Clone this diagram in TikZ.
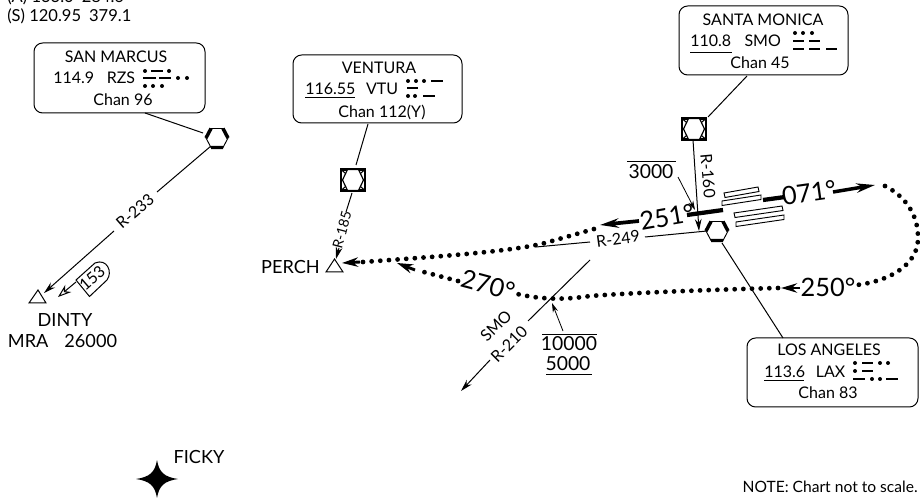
\documentclass[tikz,border=0pt]{standalone}
\usepackage{fontspec}
\setmainfont{Lato}
\usetikzlibrary{arrows.meta,calc}
\tikzset{
  lbl/.style={inner sep=0pt,font=\fontsize{12pt}{14pt}\selectfont},
  lbn/.style={inner sep=0pt,font=\fontsize{13.6pt}{15pt}\selectfont},
  lbs/.style={inner sep=0pt,font=\fontsize{12pt}{14pt}\selectfont},
  alt/.style={inner sep=0pt,font=\fontsize{14.5pt}{16pt}\selectfont},
  big/.style={inner sep=0pt,font=\fontsize{19pt}{21pt}\selectfont},
  navbox/.style={draw,rounded corners=6.5pt,line width=.75pt,inner sep=0pt,fill=white},
  icon/.style={inner sep=0pt,minimum size=16pt,circle},
  conn/.style={line width=.75pt},
  dots/.style={line width=3.6pt,line cap=round,dash pattern=on 0pt off 6.5pt},
  fah/.style={-{Stealth[length=9pt,width=5pt]}},
  lah/.style={line width=.6pt,-{Stealth[length=7pt,width=4pt]}},
  morse/.style={line width=2.2pt},
  mdot/.style={circle,fill,inner sep=0pt,minimum size=3pt},
  fix/.style={draw,line width=.75pt,fill=white},
  rwy/.style={draw,line width=.7pt,fill=white},
}
\newcommand{\hexpath}[1]{%
  \begin{scope}[shift={(#1)}]
    \draw[line width=.7pt,fill=white] (-11,0)--(-6,-9.5)--(6,-9.5)--(11,0)--(6,9.5)--(-6,9.5)--cycle;
    \draw[line width=2.6pt] (-11,0)--(-6,-9.5) (6,-9.5)--(11,0) (-6,9.5)--(6,9.5);
  \end{scope}}
\newcommand{\vortac}[1]{%
  \begin{scope}[shift={(#1)}]
    \draw[line width=2.2pt,fill=white] (-12,-10.5) rectangle (12,10.5);
    \draw[line width=.8pt] (-12,-10.5)--(12,10.5) (-12,10.5)--(12,-10.5);
    \draw[line width=.9pt,fill=white] (-10.5,0)--(-5.5,-10.5)--(5.5,-10.5)--(10.5,0)--(5.5,10.5)--(-5.5,10.5)--cycle;
  \end{scope}}
\newcommand{\mdash}[3]{\draw[morse] (#1,#3)--(#2,#3);}
\newcommand{\mpt}[2]{\node[mdot] at (#1,#2) {};}
\begin{document}
\begin{tikzpicture}[x=.75pt,y=-.75pt]
\useasboundingbox (0,0) rectangle (920,498);

% header
\node[lbl,anchor=west,font=\fontsize{12.4pt}{14pt}\selectfont] (hdra) at (7,-3) {(A) 133.0\hspace{6pt}284.6};
\node[lbl,anchor=west,font=\fontsize{12.4pt}{14pt}\selectfont] (hdrs) at (7,16) {(S) 120.95\hspace{6pt}379.1};

% boxes
\node[navbox,minimum width=128.25pt,minimum height=52.5pt] (bsm) at (119.5,78) {};
\node[navbox,minimum width=126.75pt,minimum height=51pt] (bvt) at (377.5,89) {};
\node[navbox,minimum width=126.75pt,minimum height=51.75pt] (bsa) at (763.5,40.5) {};
\node[navbox,minimum width=128.25pt,minimum height=51.75pt] (bla) at (832.5,372.5) {};

% San Marcus text
\node[lbl] (t1) at (116,57) {SAN MARCUS};
\node[lbl,anchor=west] (t2) at (53,78) {114.9\hspace{9.5pt}RZS};
\node[lbl] (t3) at (123,100) {Chan 96};
\mpt{145}{71}\mdash{151}{163}{71}\mpt{169}{71}
\mdash{143}{156}{78}\mdash{159}{171}{78}\mpt{178}{78}\mpt{187}{78}
\mpt{145}{86}\mpt{153}{86}\mpt{162}{86}

% Ventura text
\node[lbl] (t4) at (379,68) {VENTURA};
\node[lbl,anchor=west] (t5) at (305,89) {116.55\hspace{8pt}VTU};
\draw[line width=.6pt] (305,97)--(355,97);
\node[lbl] (t6) at (382,112) {Chan 112(Y)};
\mpt{408}{81}\mpt{416}{81}\mpt{424}{81}\mdash{431}{443}{81}
\mdash{407}{418}{88}
\mpt{408}{96}\mpt{415}{96}\mdash{423}{435}{96}

% Santa Monica text
\node[lbl] (t7) at (763,20) {SANTA MONICA};
\node[lbl,anchor=west] (t8) at (690,41) {110.8\hspace{10pt}SMO};
\draw[line width=.6pt] (690,52)--(732,52);
\node[lbl] (t9) at (760,63) {Chan 45};
\mpt{795}{33}\mpt{803}{33}\mpt{812}{33}
\mdash{793}{804}{41}\mdash{809}{820}{41}
\mdash{793}{804}{49}\mdash{809}{820}{49}\mdash{826}{837}{49}

% Los Angeles text
\node[lbl] (t10) at (829,350) {LOS ANGELES};
\node[lbl,anchor=west] (t11) at (764,372) {113.6\hspace{8pt}LAX};
\draw[line width=.6pt] (764,380)--(804,380);
\node[lbl] (t12) at (828,393) {Chan 83};
\mpt{855}{363}\mdash{862}{873}{363}\mpt{880}{363}\mpt{888}{363}
\mpt{855}{371}\mdash{862}{873}{371}
\mdash{853}{865}{379}\mpt{872}{379}\mpt{880}{379}\mdash{886}{898}{379}

% navaid nodes
\node[icon] (vsm) at (217,138) {};
\node[icon] (vvt) at (353,180) {};
\node[icon] (vsa) at (694,129) {};
\node[icon] (vla) at (717,231) {};

% fixes
\coordinate (dinty) at (38,298);
\coordinate (perch) at (334,267);
\draw[fix] (29,303)--(46,303)--(38,290)--cycle;
\draw[fix] (326,272)--(343,272)--(334.5,259)--cycle;
\node[lbn] (n1) at (65,320) {DINTY};
\node[lbn] (n2) at (62.5,341) {MRA\hspace{12pt}26000};
\node[lbn,anchor=east] (n3) at (320,267) {PERCH};

% connectors to boxes
\coordinate (c1a) at (145,113);\coordinate (c1b) at (203,133);
\draw[conn] (c1a)--(c1b);
\coordinate (c2a) at (368,124);\coordinate (c2b) at (356,165);
\draw[conn] (c2a)--(c2b);
\coordinate (c3a) at (747,76);\coordinate (c3b) at (708,117);
\draw[conn] (c3a)--(c3b);
\coordinate (c4a) at (722,243);\coordinate (c4b) at (783,338);
\draw[conn] (c4a)--(c4b);

% radials
\coordinate (a1) at (211,146);\coordinate (a2) at (157,192);\coordinate (a3) at (114,231);\coordinate (a4) at (44,293);
\draw[conn] (a1)--(a2);
\draw[conn,fah] (a3)--(a4);
\node[lbs,rotate=41] (r233) at (135,211) {R-233};

\coordinate (b1) at (352,193);\coordinate (b2) at (346,212);\coordinate (b3) at (339,248);\coordinate (b4) at (336,259);
\draw[conn] (b1)--(b2);
\draw[conn,fah] (b3)--(b4);
\node[lbs,rotate=75,font=\fontsize{10.5pt}{12pt}\selectfont] (r185) at (342,230) {R-185};

\coordinate (d1) at (693,140);\coordinate (d2) at (699,231);
\draw[conn,fah] (d1)--(d2);
\node[lbs,rotate=-85] (r160) at (708,176) {R-160};

\coordinate (e1) at (707,231);\coordinate (e2) at (645,237);\coordinate (e3) at (590,242);\coordinate (e4) at (536,247);
\draw[conn] (e1)--(e2) (e3)--(e4);
\node[lbs,rotate=8] (r249) at (618,239) {R-249};

\coordinate (f1) at (590,260);\coordinate (f2) at (528,321);\coordinate (f3) at (490,360);\coordinate (f4) at (461,391);
\draw[conn] (f1)--(f2);
\draw[conn,fah] (f3)--(f4);
\node[lbs,rotate=45] (smo) at (496,326) {SMO};
\node[lbs,rotate=45] (r210) at (509,344) {R-210};

% icons
\hexpath{217,138}
\vortac{353,180}
\vortac{694,129}
\hexpath{717,231}

% 153 tag
\coordinate (g1) at (76,282);\coordinate (g2) at (58,297);
\draw[line width=.75pt,-{Stealth[open,length=10pt,width=7pt,fill=white]}] (g1)--(g2);
\draw[line width=.75pt] (76,280)--(89.5,296.5)--(107,280) .. controls (113,272) and (107,258) .. (95,263)--cycle;
\node[lbs,rotate=41] (t153) at (92,278) {153};

% runways
\draw[rwy] (724,193)--(758,187)--(759,191.5)--(725,197.5)--cycle;
\draw[rwy] (722,201)--(761,195)--(761,199.5)--(722,205.5)--cycle;
\draw[rwy] (734,213)--(782,206)--(783,210.5)--(735,217.5)--cycle;
\draw[rwy] (736,222)--(784,215)--(784,219.5)--(736,226.5)--cycle;

% track
\coordinate (p1) at (885,186);
\draw[dots] (p1) .. controls (905,196) and (919,215) .. (918,240) .. controls (917,262) and (895,280) .. (857,285);
\coordinate (p2) at (778,288);
\draw[dots] (p2) .. controls (700,290) and (630,293) .. (590,296) .. controls (570,299) and (545,301) .. (513,293);
\coordinate (p3) at (458,281);
\draw[dots] (p3) -- (420,271);
\coordinate (p4) at (363,262);
\draw[dots] (p4) .. controls (430,257) and (510,252) .. (545,243) -- (594,229);

% track arrows
\coordinate (h1) at (833,192);\coordinate (h2) at (875,185);
\draw[line width=2.6pt,-{Stealth[length=14pt,width=7pt]}] (h1)--(h2);
\coordinate (h3) at (800,288);\coordinate (h4) at (781,288);
\draw[line width=2.2pt,-{Stealth[length=12pt,width=7pt]}] (h3)--(h4);
\coordinate (h5) at (415,270);\coordinate (h6) at (397,263);
\draw[line width=2.2pt,-{Stealth[length=12pt,width=7pt]}] (h5)--(h6);
\coordinate (h7) at (360,262);\coordinate (h8) at (342,263);
\draw[line width=2.2pt,-{Stealth[length=12pt,width=7pt]}] (h7)--(h8);
\coordinate (h9) at (639,221);\coordinate (h10) at (600,225);
\draw[line width=2.8pt,-{Stealth[length=14pt,width=7pt]}] (h9)--(h10);

% course bars
\draw[line width=3.2pt] (687,215)--(723,210);
\draw[line width=3.2pt] (763,200)--(785,197);

% course labels
\node[big,rotate=10] (c251) at (667,217) {251°};
\node[big,rotate=8] (c071) at (809,193) {071°};
\node[big] (l250) at (828,287) {250°};
\node[big,rotate=-15] (c270) at (488,285) {270°};

% altitudes
\node[alt] (alt3) at (651,172) {3000};
\draw[line width=.7pt] (627,161)--(676,161);
\coordinate (i1) at (678,177);\coordinate (i2) at (695,210);
\draw[lah] (i1)--(i2);
\node[alt] (alt10) at (569,344) {10000};
\draw[line width=.7pt] (542,334)--(597,334);
\node[alt] (alt5) at (568,364) {5000};
\draw[line width=.7pt] (546,374)--(592,374);
\coordinate (j1) at (563,331);\coordinate (j2) at (552,303);
\draw[lah] (j1)--(j2);

% Ficky
\coordinate (fk) at (157,479);
\fill (136,479) .. controls (150,477) and (155,472) .. (157,460) .. controls (159,472) and (164,477) .. (178,479) .. controls (164,481) and (159,486) .. (157,498) .. controls (155,486) and (150,481) .. (136,479) -- cycle;
\node[lbn] (ficky) at (199,457) {FICKY};

% note
\node[lbl,anchor=east,font=\fontsize{11.7pt}{14pt}\selectfont] (note) at (918,487) {NOTE: Chart not to scale.};
\end{tikzpicture}
\end{document}
